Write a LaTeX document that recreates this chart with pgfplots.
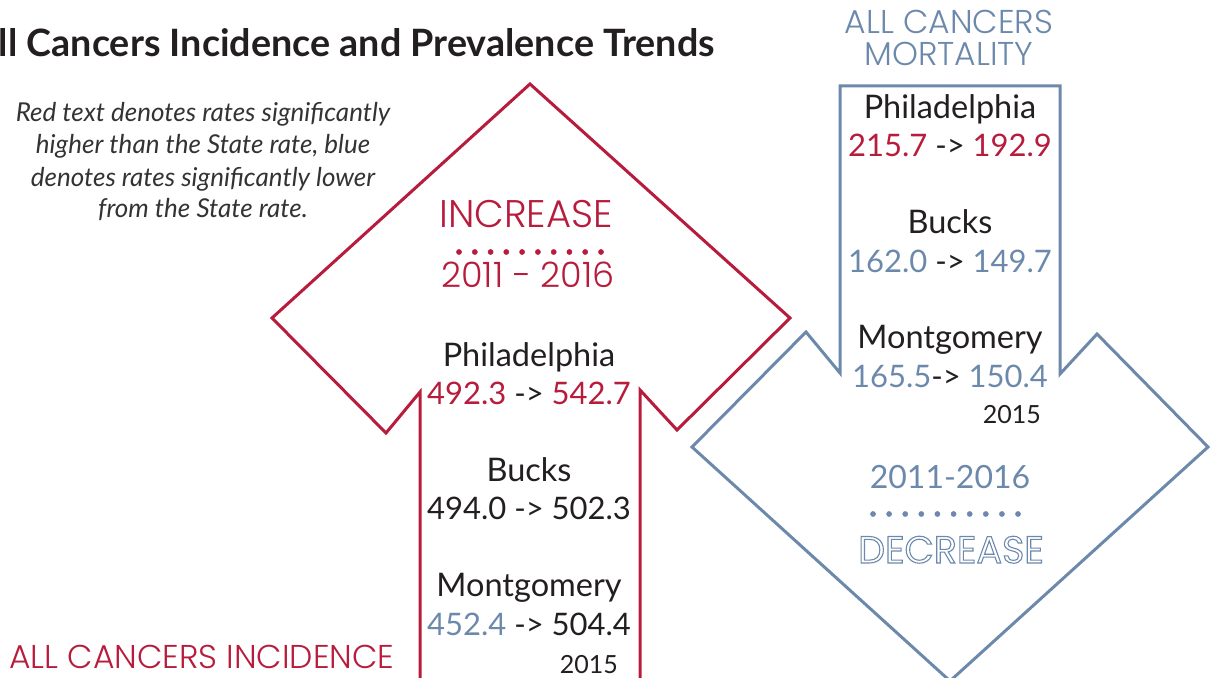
\documentclass[border=0pt]{standalone}
\usepackage{pgfplots}
\pgfplotsset{compat=1.18}
\usepackage{fontspec}
\setmainfont{Lato}
\IfFontExistsTF{Poppins Light}{\newfontfamily\mont{Poppins Light}}{\newfontfamily\mont{Poppins}}
\newfontfamily\montb{Poppins}
\definecolor{cred}{HTML}{B71C3C}
\definecolor{cblue}{HTML}{6C89AB}
\definecolor{ctext}{HTML}{231F20}
\definecolor{cital}{HTML}{333333}
\newcommand\fs[1]{\fontsize{#1}{#1}\selectfont}
\newcommand\R[1]{{\color{cred}#1}}
\newcommand\B[1]{{\color{cblue}#1}}
\begin{document}
\begin{tikzpicture}[every node/.style={inner sep=0pt, anchor=base, text=ctext}]
\useasboundingbox (0,0) rectangle (1217pt,677pt);
\begin{axis}[at={(0,0)}, anchor=south west, scale only axis,
  width=1217pt, height=677pt, xmin=0, xmax=1217, ymin=-677, ymax=0,
  hide axis, clip=true]
% red up arrow (incidence)
\addplot[draw=cred, line width=3pt, line join=miter, mark=none] coordinates {
 (530,-84) (272,-318) (386,-433) (420,-392) (420,-700) (640,-700) (640,-390) (677,-430) (790,-318)} -- cycle;
% blue down arrow (mortality)
\addplot[draw=cblue, line width=3pt, line join=miter, mark=none] coordinates {
 (840,-86) (840,-373) (806,-332) (692,-447) (950,-681) (1208,-447) (1097,-334) (1060,-374) (1060,-86)} -- cycle;
% dots
\addplot[only marks, mark=*, mark size=2.6pt, color=cred] coordinates {
 (459,-252) (474.8,-252) (490.6,-252) (506.3,-252) (522.1,-252) (537.9,-252) (553.7,-252) (569.4,-252) (585.2,-252) (601,-252)};
\addplot[only marks, mark=*, mark size=2.6pt, color=cblue] coordinates {
 (873,-514) (889.1,-514) (905.2,-514) (921.3,-514) (937.4,-514) (953.6,-514) (969.7,-514) (985.8,-514) (1001.9,-514) (1018,-514)};

% title
\node[anchor=base east, font=\fs{37.7}\bfseries] at (axis cs:715,-57) {All Cancers Incidence and Prevalence Trends};
% italic note
\node[text=cital, font=\fs{26}\itshape] at (axis cs:203,-122) {Red text denotes rates significantly};
\node[text=cital, font=\fs{26}\itshape] at (axis cs:203,-154) {higher than the State rate, blue};
\node[text=cital, font=\fs{26}\itshape] at (axis cs:203,-187) {denotes rates significantly lower};
\node[text=cital, font=\fs{26}\itshape] at (axis cs:203,-218) {from the State rate.};
% headings
\node[text=cblue, font=\mont\fs{33}] at (axis cs:949,-34) {ALL CANCERS};
\node[text=cblue, font=\mont\fs{33}] at (axis cs:949,-66) {MORTALITY};
\node[text=cred, font=\mont\fs{33}] at (axis cs:202,-668) {ALL CANCERS INCIDENCE};
\node[text=cred, font=\mont\fs{38.5}] at (axis cs:526,-228) {INCREASE};
\node[text=cred, font=\mont\fs{35}] at (axis cs:528,-288) {2011 - 2016};
\node[text=cblue, font=\fs{32}] at (axis cs:950,-489) {2011-2016};
\node[text=cblue, font=\montb\fs{38}] at (axis cs:951,-563) {\special{pdf:literal direct 1 Tr 1.1 w}DECREASE\special{pdf:literal direct 0 Tr 1 w}};
% red arrow texts
\node[font=\fs{32.5}] at (axis cs:529,-367) {Philadelphia};
\node[font=\fs{31}] at (axis cs:529,-405) {\R{492.3} -> \R{542.7}};
\node[font=\fs{32.5}] at (axis cs:529,-482) {Bucks};
\node[font=\fs{31}] at (axis cs:529,-520) {494.0 -> 502.3};
\node[font=\fs{32.5}] at (axis cs:529,-597) {Montgomery};
\node[font=\fs{31}] at (axis cs:529,-636) {\B{452.4} -> 504.4};
\node[anchor=base east, font=\fs{25}] at (axis cs:618,-673) {2015};
% blue arrow texts
\node[font=\fs{32.5}] at (axis cs:950,-119) {Philadelphia};
\node[font=\fs{31}] at (axis cs:950,-157) {\R{215.7} -> \R{192.9}};
\node[font=\fs{32.5}] at (axis cs:950,-234) {Bucks};
\node[font=\fs{31}] at (axis cs:950,-273) {\B{162.0} -> \B{149.7}};
\node[font=\fs{32.5}] at (axis cs:950,-349) {Montgomery};
\node[font=\fs{31}] at (axis cs:950,-388) {\B{165.5}-> \B{150.4}};
\node[anchor=base east, font=\fs{25}] at (axis cs:1041,-424) {2015};
\end{axis}
\end{tikzpicture}
\end{document}
